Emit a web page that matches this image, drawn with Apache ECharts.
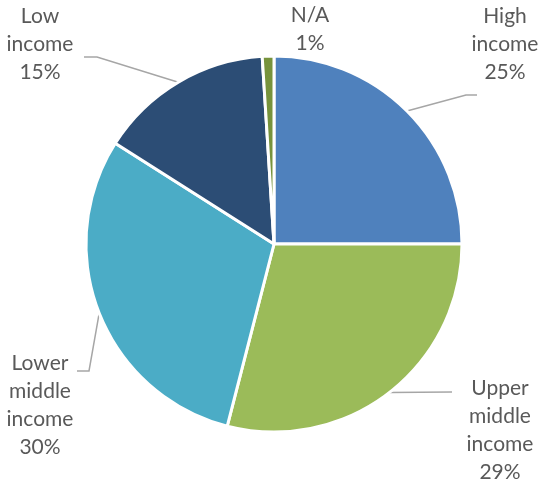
<!DOCTYPE html>
<html>
<head>
<meta charset="utf-8">
<script src="https://cdn.jsdelivr.net/npm/echarts@6/dist/echarts.min.js"></script>
<style>
  html, body { margin: 0; padding: 0; background: #fff; }
  #main { width: 544px; height: 484px; }
</style>
</head>
<body>
<div id="main"></div>
<script>
var categories = ['High\nincome', 'Upper\nmiddle\nincome', 'Lower\nmiddle\nincome', 'Low\nincome', 'N/A'];
var shares = [25, 29, 30, 15, 1];
var sliceColors = ['#4F81BD', '#9BBB59', '#4BACC6', '#2C4D75', '#77933C'];

// where each label sits (centre of text block) and how its leader line bends
var labelSpots = [[505, 44], [500, 430], [40, 405], [40, 44], [310, 29]];
var leaderBends = [
    [[466, 95], [477, 95]],
    [[452, 392], [452, 392]],
    [[89, 371], [77, 371]],
    [[97, 57], [84, 57]],
    null
];

var chart = echarts.init(document.getElementById('main'));
chart.setOption({
    animation: false,
    series: [{
        type: 'pie',
        center: [274, 244],
        radius: [0, 188],
        startAngle: 90,
        clockwise: true,
        avoidLabelOverlap: false,
        itemStyle: { borderColor: '#fff', borderWidth: 3 },
        label: {
            show: true,
            formatter: '{b}\n{c}%',
            color: '#595959',
            fontFamily: 'Lato',
            fontSize: 21,
            lineHeight: 28,
            align: 'center'
        },
        labelLine: {
            show: true,
            length: 20,
            length2: 15,
            lineStyle: { color: '#A6A6A6', width: 1.5 }
        },
        labelLayout: function (p) {
            var s = labelSpots[p.dataIndex];
            var out = { x: s[0], y: s[1], align: 'center', verticalAlign: 'middle' };
            var b = leaderBends[p.dataIndex];
            if (b && p.labelLinePoints) {
                out.labelLinePoints = [p.labelLinePoints[0], b[0], b[1]];
            }
            return out;
        },
        data: categories.map(function (c, i) {
            var d = { name: c, value: shares[i], itemStyle: { color: sliceColors[i] } };
            if (c === 'N/A') d.labelLine = { show: false };
            return d;
        })
    }]
});
</script>
</body>
</html>
